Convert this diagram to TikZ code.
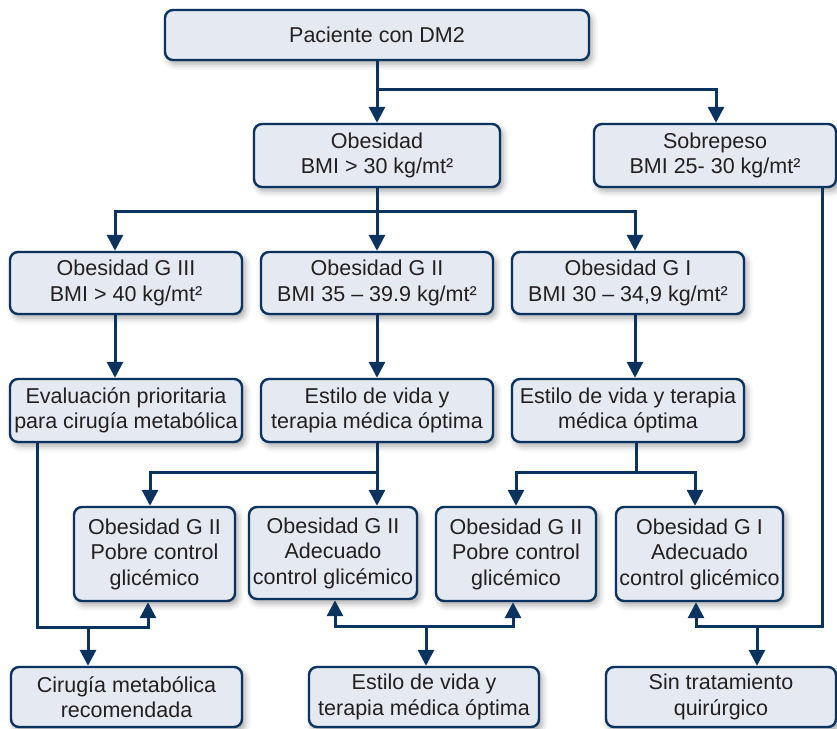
\documentclass[tikz,border=0pt]{standalone}
\usepackage{fontspec}
\setmainfont{Liberation Sans}
\usetikzlibrary{arrows.meta,shadows.blur}
\definecolor{navy}{HTML}{0B3360}
\definecolor{boxfill}{HTML}{E5EAF2}
\definecolor{ink}{HTML}{231F20}
\tikzset{
  box/.style={draw=navy, line width=2.4pt, fill=boxfill, rounded corners=8pt,
    blur shadow={shadow xshift=3pt, shadow yshift=-4pt, shadow blur radius=6pt, shadow opacity=35},
    inner sep=0pt, align=center, text=ink,
    font=\fontsize{21.5}{25.5}\selectfont},
  link/.style={draw=navy, line width=3pt},
  tip/.tip={Triangle[width=16pt,length=16pt]},
  arr/.style={link, -tip},
  arrboth/.style={link, tip-tip}
}
\begin{document}
\begin{tikzpicture}[x=1pt,y=-1pt]
\useasboundingbox (0,0) rectangle (837,728);

% boxes
\node[box, minimum width=424pt, minimum height=50pt] (dm2) at (377,35) {Paciente con DM2};
\node[box, minimum width=246pt, minimum height=63pt] (obe) at (377,155.5) {Obesidad\\BMI > 30 kg/mt²};
\node[box, minimum width=242pt, minimum height=63pt] (sob) at (715,155.5) {Sobrepeso\\BMI 25- 30 kg/mt²};

\node[box, minimum width=232pt, minimum height=62pt] (g3) at (126,283) {Obesidad G III\\BMI > 40 kg/mt²};
\node[box, minimum width=232pt, minimum height=62pt] (g2) at (377,283) {Obesidad G II\\BMI 35 – 39.9 kg/mt²};
\node[box, minimum width=232pt, minimum height=62pt] (g1) at (628,283) {Obesidad G I\\BMI 30 – 34,9 kg/mt²};

\node[box, minimum width=232pt, minimum height=63pt] (ev) at (126,410.5) {Evaluación prioritaria\\para cirugía metabólica};
\node[box, minimum width=232pt, minimum height=63pt] (es2) at (377,410.5) {Estilo de vida y\\terapia médica óptima};
\node[box, minimum width=232pt, minimum height=63pt] (es1) at (628,410.5) {Estilo de vida y terapia\\médica óptima};

\node[box, minimum width=161pt, minimum height=94pt] (p2a) at (154.5,554) {Obesidad G II\\Pobre control\\glicémico};
\node[box, minimum width=168pt, minimum height=92pt] (a2) at (333,553) {Obesidad G II\\Adecuado\\control glicémico};
\node[box, minimum width=160pt, minimum height=94pt] (p2b) at (516,554) {Obesidad G II\\Pobre control\\glicémico};
\node[box, minimum width=167pt, minimum height=94pt] (a1) at (699.5,554) {Obesidad G I\\Adecuado\\control glicémico};

\node[box, minimum width=231pt, minimum height=60pt] (cir) at (126.5,697) {Cirugía metabólica\\recomendada};
\node[box, minimum width=230pt, minimum height=60pt] (est) at (424,697) {Estilo de vida y\\terapia médica óptima};
\node[box, minimum width=230pt, minimum height=60pt] (sin) at (721,697) {Sin tratamiento\\quirúrgico};

% first split
\draw[arr] (dm2.south) -- (obe.north);
\draw[arr] (dm2.south) -- ++(0,28) -| ([xshift=1pt]sob.north);

% obesity grades
\draw[arr] (obe.south) -- (g2.north);
\draw[arr] (obe.south) -- ++(0,23) -| ([xshift=-11pt]g3.north);
\draw[arr] (obe.south) ++(0,23) -| ([xshift=7pt]g1.north);

% grade to management
\draw[arr] ([xshift=-11pt]g3.south) -- ([xshift=-11pt]ev.north);
\draw[arr] (g2.south) -- (es2.north);
\draw[arr] ([xshift=7pt]g1.south) -- ([xshift=7pt]es1.north);

% glycaemic control split
\draw[arr] (es2.south) -- ([xshift=44pt]a2.north);
\draw[arr] (es2.south) -- ++(0,29) -| ([xshift=-4.5pt]p2a.north);
\draw[link] ([xshift=8pt]es1.south) -- ++(0,29) coordinate (j1);
\draw[arr] (j1) -| (p2b.north);
\draw[arr] (j1) -| ([xshift=-4.5pt]a1.north);

% outcomes, left
\coordinate (evd) at ([xshift=-89pt]ev.south);
\draw[arr] (evd) -- (evd |- 0,627) -| ([xshift=-6.5pt]p2a.south);
\coordinate (jl) at ([xshift=-38.5pt]cir.north |- 0,627);
\draw[arr] (jl) -- ([xshift=-38.5pt]cir.north);

% outcomes, middle
\coordinate (a2d) at ([xshift=2pt]a2.south);
\draw[arrboth] (a2d) -- (a2d |- 0,626) -| ([xshift=-3pt]p2b.south);
\coordinate (jm) at ([xshift=2pt]est.north |- 0,626);
\draw[arr] (jm) -- ([xshift=2pt]est.north);

% outcomes, right
\coordinate (sobd) at ([xshift=107pt]sob.south);
\draw[arr] (sobd) -- (sobd |- 0,626) -| ([xshift=-3.5pt]a1.south);
\coordinate (jr) at ([xshift=36pt]sin.north |- 0,626);
\draw[arr] (jr) -- ([xshift=36pt]sin.north);
\end{tikzpicture}
\end{document}
